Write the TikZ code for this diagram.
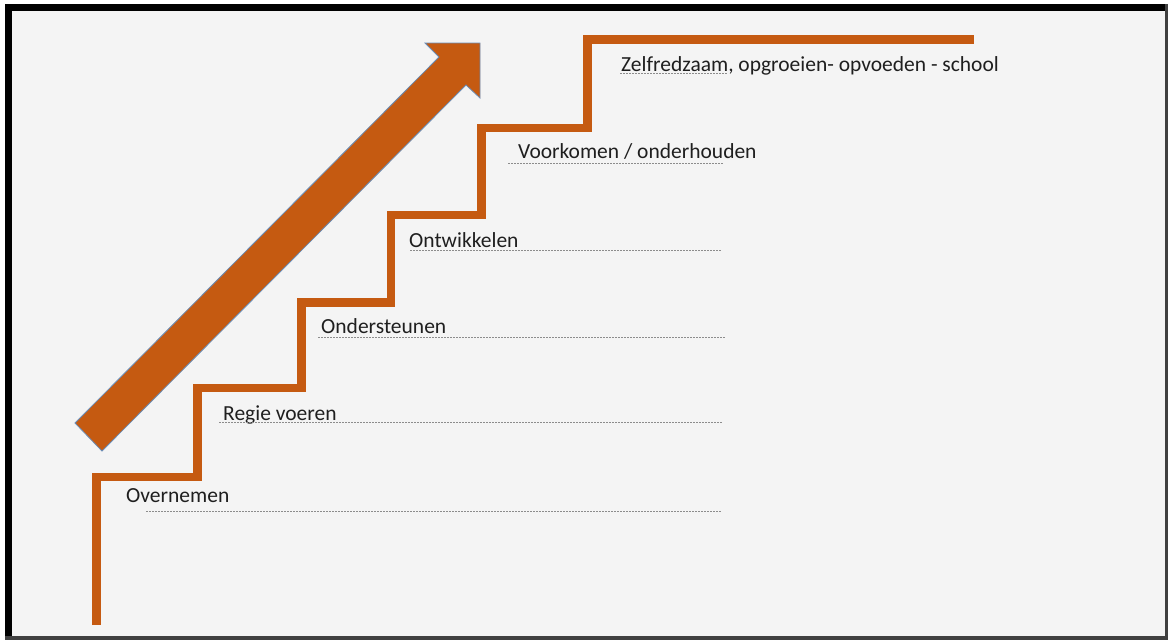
\documentclass[tikz,border=0pt]{standalone}
\usepackage{fontspec}
\setmainfont{Carlito}
\definecolor{stairorange}{HTML}{C55A11}
\definecolor{arrowedge}{HTML}{6A8CB5}
\definecolor{panelgray}{HTML}{F4F4F4}
\definecolor{guidegray}{HTML}{8C8C8C}
\tikzset{
  stair/.style={line width=8.5pt, stairorange, line join=miter},
  lbl/.style={anchor=base west, inner sep=0pt, font=\fontsize{21.5}{25}\selectfont, text=black!88},
  guide/.style={guidegray, line width=0.9pt, dash pattern=on 1.5pt off 1.5pt}
}

\begin{document}
\begin{tikzpicture}[x=1pt,y=-1pt]
\useasboundingbox (0,0) rectangle (1169,641);
% frame
\fill[white] (0,0) rectangle (1169,641);
\fill[black!75] (5,4) rectangle (1168,640);
\fill[black] (5,4) rectangle (1165,11);
\fill[black] (5,4) rectangle (12,636);
\fill[panelgray] (12,11) rectangle (1165,636);

% staircase
\draw[stair] (96.5,625) -- (96.5,477) -- (197.5,477) -- (197.5,388)
  -- (301.5,388) -- (301.5,302.5) -- (391,302.5) -- (391,215)
  -- (481.5,215) -- (481.5,128) -- (587.5,128) -- (587.5,39.5) -- (974,39.5);

% big arrow
\filldraw[fill=stairorange, draw=arrowedge, line width=0.8pt, line join=miter]
  (75,423) -- (439,57) -- (425,43) -- (480,43) -- (480,98) -- (466,85) -- (102,451) -- cycle;

% labels
\node[lbl] (overnemen) at (126,502) {Overnemen};
\node[lbl] (regie) at (223,420) {Regie voeren};
\node[lbl] (ondersteunen) at (321,333) {Ondersteunen};
\node[lbl] (ontwikkelen) at (409,247) {Ontwikkelen};
\node[lbl] (voorkomen) at (518,158) {Voorkomen / onderhouden};
\node[lbl] (zelfredzaam) at (621,71) {Zelfredzaam, opgroeien- opvoeden - school};

% dotted lines under the steps
\foreach \xa/\ya/\xb in {146/511/722, 219/422/722, 318/337/725, 410/250/722, 508/163/723, 620/73/727}
  \draw[guide] (\xa,\ya) -- (\xb,\ya);
\end{tikzpicture}
\end{document}
